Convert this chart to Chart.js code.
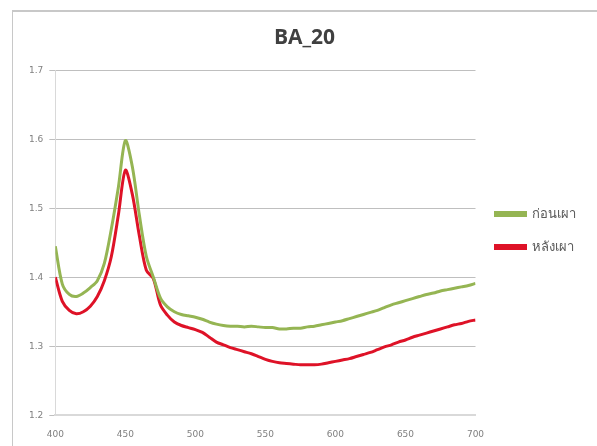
<!DOCTYPE html>
<html>
<head>
<meta charset="utf-8">
<script src="https://cdn.jsdelivr.net/npm/chart.js@4"></script>
<style>
  html, body { margin: 0; padding: 0; background: #fff; overflow: hidden; width: 597px; height: 446px; }
  #frame { position: absolute; left: 12px; top: 10px; width: 700px; height: 600px;
           border-left: 1px solid #c8c8c8; border-top: 2px solid #c8c8c8; }
  #wrap { position: absolute; left: 0; top: 0; width: 597px; height: 446px; }
</style>
</head>
<body>
<div id="frame"></div>
<div id="wrap"><canvas id="chart" width="597" height="446"></canvas></div>
<script>
// ===== DATA =====
const wavelengths = [
  400, 405, 410, 415, 420, 425, 430, 435, 440, 445,
  450, 455, 460, 465, 470, 475, 480, 485, 490, 495,
  500, 505, 510, 515, 520, 525, 530, 535, 540, 545,
  550, 555, 560, 565, 570, 575, 580, 585, 590, 595,
  600, 605, 610, 615, 620, 625, 630, 635, 640, 645,
  650, 655, 660, 665, 670, 675, 680, 685, 690, 695, 700
];

const beforeFiring = [
  1.445, 1.390, 1.375, 1.372, 1.377, 1.385, 1.395, 1.420, 1.470, 1.530,
  1.598, 1.560, 1.490, 1.430, 1.400, 1.370, 1.357, 1.350, 1.346, 1.344,
  1.342, 1.339, 1.335, 1.332, 1.330, 1.329, 1.329, 1.328, 1.329, 1.328,
  1.327, 1.327, 1.325, 1.325, 1.326, 1.326, 1.328, 1.329, 1.331, 1.333,
  1.335, 1.337, 1.340, 1.343, 1.346, 1.349, 1.352, 1.356, 1.360, 1.363,
  1.366, 1.369, 1.372, 1.375, 1.377, 1.380, 1.382, 1.384, 1.386, 1.388, 1.391
];

const afterFiring = [
  1.400, 1.365, 1.352, 1.347, 1.350, 1.358, 1.372, 1.395, 1.430, 1.490,
  1.555, 1.520, 1.460, 1.410, 1.398, 1.360, 1.345, 1.335, 1.330, 1.327,
  1.324, 1.320, 1.313, 1.306, 1.302, 1.298, 1.295, 1.292, 1.289, 1.285,
  1.281, 1.278, 1.276, 1.275, 1.274, 1.273, 1.273, 1.273, 1.274, 1.276,
  1.278, 1.280, 1.282, 1.285, 1.288, 1.291, 1.295, 1.299, 1.302, 1.306,
  1.309, 1.313, 1.316, 1.319, 1.322, 1.325, 1.328, 1.331, 1.333, 1.336, 1.338
];

const seriesNames = ["ก่อนเผา", "หลังเผา"];
const chartTitle = "BA_20";

// ===== CHART =====
const toPoints = vals => wavelengths.map((x, i) => ({ x, y: vals[i] }));

const ctx = document.getElementById("chart").getContext("2d");
new Chart(ctx, {
  type: "line",
  data: {
    datasets: [
      {
        label: seriesNames[0],
        data: toPoints(beforeFiring),
        borderColor: "#95b553",
        backgroundColor: "#95b553",
        borderWidth: 3,
        pointRadius: 0,
        tension: 0.3
      },
      {
        label: seriesNames[1],
        data: toPoints(afterFiring),
        borderColor: "#de1227",
        backgroundColor: "#de1227",
        borderWidth: 3,
        pointRadius: 0,
        tension: 0.3
      }
    ]
  },
  options: {
    responsive: false,
    animation: false,
    layout: { padding: { left: 23, right: 11, top: 15, bottom: 0 } },
    plugins: {
      title: {
        display: true,
        text: chartTitle,
        color: "#404040",
        font: { family: "Open Sans", size: 21, weight: "bold" },
        padding: { top: 10, bottom: 20 }
      },
      legend: {
        position: "right",
        labels: {
          boxWidth: 30,
          boxHeight: 3,
          padding: 20,
          color: "#595959",
          font: { family: "Noto Sans", size: 13 }
        }
      },
      tooltip: { enabled: false }
    },
    scales: {
      x: {
        type: "linear",
        min: 400,
        max: 700,
        ticks: { stepSize: 50, padding: 6, color: "#7f7f7f", font: { family: "DejaVu Sans", size: 9 } },
        grid: { display: false },
        border: { color: "#d9d9d9", width: 2 }
      },
      y: {
        min: 1.2,
        max: 1.7,
        ticks: {
          stepSize: 0.1,
          padding: 6,
          color: "#7f7f7f",
          font: { family: "DejaVu Sans", size: 9 },
          callback: v => v.toFixed(1)
        },
        grid: { color: "#bfbfbf", tickLength: 6 },
        border: { color: "#d9d9d9", width: 1 }
      }
    }
  }
});
</script>
</body>
</html>
